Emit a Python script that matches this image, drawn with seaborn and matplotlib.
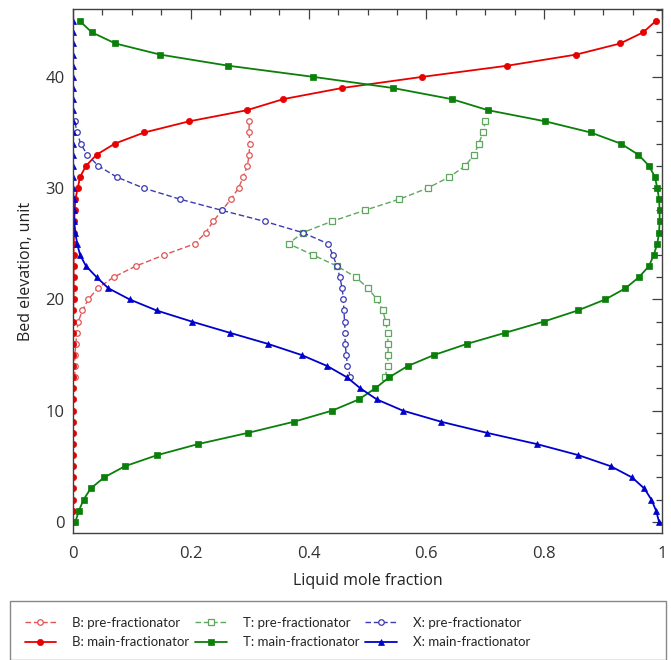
import matplotlib
matplotlib.use("Agg")
import matplotlib.pyplot as plt
from matplotlib.patches import Rectangle
from matplotlib.ticker import MultipleLocator
import seaborn as sns
import pandas as pd

# Bed elevation of each stage
elev_main = list(range(46))
elev_pre = list(range(13, 37))

# Liquid mole fractions, main fractionator
b_main = [0.000, 0.000, 0.000, 0.000, 0.000, 0.000, 0.000, 0.000, 0.000, 0.000,
          0.000, 0.000, 0.000, 0.000, 0.000, 0.000, 0.000, 0.000, 0.000, 0.000,
          0.001, 0.001, 0.001, 0.001, 0.001, 0.001, 0.002, 0.002, 0.003, 0.004,
          0.008, 0.012, 0.022, 0.040, 0.071, 0.121, 0.197, 0.295, 0.357, 0.457,
          0.593, 0.737, 0.854, 0.929, 0.968, 0.989]
t_main = [0.004, 0.010, 0.018, 0.030, 0.053, 0.088, 0.143, 0.213, 0.297, 0.375,
          0.440, 0.485, 0.513, 0.537, 0.568, 0.613, 0.669, 0.734, 0.799, 0.857,
          0.904, 0.938, 0.961, 0.978, 0.986, 0.992, 0.995, 0.996, 0.996, 0.995,
          0.992, 0.988, 0.978, 0.960, 0.930, 0.879, 0.802, 0.705, 0.643, 0.543,
          0.408, 0.264, 0.148, 0.072, 0.032, 0.012]
x_main = [0.995, 0.990, 0.982, 0.970, 0.949, 0.913, 0.858, 0.787, 0.703, 0.625,
          0.560, 0.516, 0.488, 0.465, 0.432, 0.388, 0.331, 0.266, 0.202, 0.142,
          0.096, 0.060, 0.040, 0.022, 0.012, 0.007, 0.004, 0.002, 0.001, 0.001,
          0.000, 0.000, 0.000, 0.000, 0.000, 0.000, 0.000, 0.000, 0.000, 0.000,
          0.000, 0.000, 0.000, 0.000, 0.000, 0.000]

# Liquid mole fractions, pre-fractionator
b_pre = [0.003, 0.003, 0.003, 0.005, 0.006, 0.009, 0.016, 0.026, 0.042, 0.069,
         0.107, 0.155, 0.207, 0.225, 0.238, 0.253, 0.268, 0.281, 0.289, 0.296,
         0.299, 0.300, 0.299, 0.299]
t_pre = [0.530, 0.534, 0.535, 0.535, 0.534, 0.531, 0.526, 0.516, 0.501, 0.480,
         0.448, 0.407, 0.366, 0.390, 0.439, 0.495, 0.554, 0.602, 0.639, 0.666,
         0.681, 0.689, 0.696, 0.700]
x_pre = [0.471, 0.466, 0.464, 0.462, 0.462, 0.461, 0.460, 0.459, 0.457, 0.453,
         0.448, 0.441, 0.433, 0.390, 0.326, 0.253, 0.182, 0.120, 0.074, 0.043,
         0.024, 0.013, 0.007, 0.003]

sns.set_style("white")
plt.rcParams["font.family"] = ["Open Sans", "DejaVu Sans"]

W, H = 671, 660
fig = plt.figure(figsize=(W / 100, H / 100), dpi=100)
ax = fig.add_axes([73 / W, 1 - 533 / H, 589 / W, (533 - 9) / H])

series = [
    ("B: pre-fractionator", b_pre, elev_pre, "#e05555", "o", True),
    ("B: main-fractionator", b_main, elev_main, "#e80000", "o", False),
    ("T: pre-fractionator", t_pre, elev_pre, "#5fa75f", "s", True),
    ("T: main-fractionator", t_main, elev_main, "#0a7f0a", "s", False),
    ("X: pre-fractionator", x_pre, elev_pre, "#3a3ab4", "o", True),
    ("X: main-fractionator", x_main, elev_main, "#0000cc", "^", False),
]

for label, xs, ys, color, mk, is_pre in series:
    df = pd.DataFrame({"frac": xs, "elev": ys})
    if is_pre:
        sns.lineplot(data=df, x="frac", y="elev", ax=ax, sort=False, estimator=None,
                     color=color, linewidth=1.0, linestyle=(0, (4, 2)),
                     marker=mk, markersize=4.0, markerfacecolor="white",
                     markeredgecolor=color, markeredgewidth=0.9, label=label)
    else:
        sns.lineplot(data=df, x="frac", y="elev", ax=ax, sort=False, estimator=None,
                     color=color, linewidth=1.3,
                     marker=mk, markersize=5.0 if mk == "^" else 4.5,
                     markerfacecolor=color, markeredgecolor=color,
                     markeredgewidth=0.5, label=label)

ax.set_xlim(0, 1)
ax.set_ylim(-1, 46.1)
ax.xaxis.set_major_locator(MultipleLocator(0.2))
ax.xaxis.set_minor_locator(MultipleLocator(0.05))
ax.yaxis.set_major_locator(MultipleLocator(10))
ax.yaxis.set_minor_locator(MultipleLocator(2))
ax.set_xticks([0, 0.2, 0.4, 0.6, 0.8, 1.0])
ax.set_xticklabels(["0", "0.2", "0.4", "0.6", "0.8", "1"])
ax.tick_params(which="both", direction="in", top=True, right=True,
               color="#404040", width=0.9, labelsize=12, labelcolor="#333333")
ax.tick_params(which="major", length=7)
ax.tick_params(axis="x", which="major", pad=9)
ax.tick_params(axis="y", which="major", pad=6)
ax.tick_params(which="minor", length=4)
for sp in ax.spines.values():
    sp.set_color("#404040")
    sp.set_linewidth(1.0)

ax.set_xlabel("Liquid mole fraction", fontsize=11.5, color="#222222", labelpad=8)
ax.set_ylabel("Bed elevation, unit", fontsize=11.5, color="#222222", labelpad=8)

# Legend entries in three compact columns inside a wide box
handles, labels = ax.get_legend_handles_labels()
ax.get_legend().remove()
fig.legend(handles, labels, ncol=3, loc="upper left",
           bbox_to_anchor=(10 / W, 1 - 602 / H), borderaxespad=0.0,
           prop={"family": ["Lato", "DejaVu Sans"], "size": 9.5},
           frameon=False, handlelength=2.4, borderpad=1.1, labelspacing=0.6,
           columnspacing=0.45, handletextpad=1.2)
fig.add_artist(Rectangle((10 / W, 0.0), 656 / W, (H - 602) / H + 0.002,
                         transform=fig.transFigure, fill=False,
                         edgecolor="#888888", linewidth=1.0, clip_on=False))

fig.savefig("out.png", dpi=100)
